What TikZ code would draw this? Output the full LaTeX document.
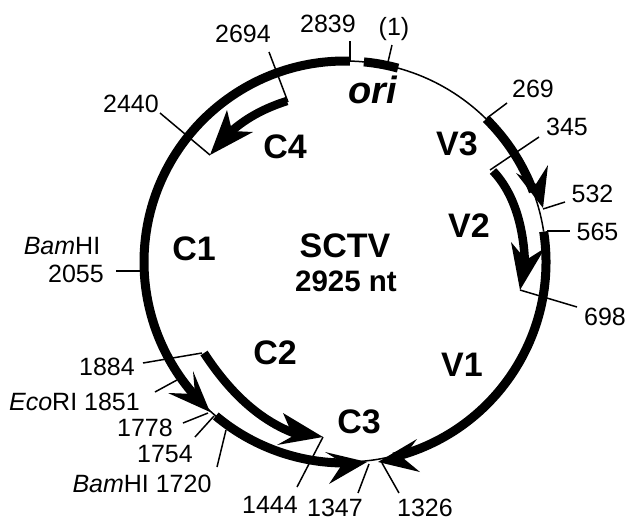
\documentclass[tikz,border=0pt]{standalone}
\usepackage{fontspec}
\setmainfont{Liberation Sans}
\newcommand\ringarc[4]{\draw[#1] ([shift={(-#2:#4)}]ctr) arc[start angle=-#2,end angle=-#3,radius=#4];}
\tikzset{
  num/.style={anchor=base,inner sep=0pt,font=\fontsize{25}{28}\selectfont},
  big/.style={anchor=base,inner sep=0pt,font=\fontsize{34}{36}\selectfont\bfseries},
  thick ring/.style={line width=9pt,line cap=butt},
  thin ring/.style={line width=1.5pt},
  gene/.style={line width=8.5pt,line cap=butt},
  tick/.style={line width=1.5pt},
  head/.style={fill=black,draw=none}
}
\begin{document}
\begin{tikzpicture}[x=1pt,y=1pt,yscale=-1]
\useasboundingbox (0,0) rectangle (629,520);
\coordinate (ctr) at (345,262);
% ring
\ringarc{thin ring}{88.6}{8.7}{201}
\ringarc{thin ring}{222}{231}{201}
\ringarc{thin ring}{268}{285}{200}
\ringarc{thick ring}{84.6}{74.7}{201}
\ringarc{thick ring}{88.6}{222.5}{201}
\ringarc{thick ring}{230}{270}{201}
\ringarc{thick ring}{8.7}{-76}{201}
\ringarc{thick ring}{45.4}{20.5}{201}
% ring arrowheads
\fill[head] (210,412) -- (193,371) -- (195,394) -- (168,393) -- cycle;
\fill[head] (367,462) -- (325,452) -- (343,463) -- (329,484) -- cycle;
\fill[head] (378,462) -- (417,439) -- (403,458) -- (420,472) -- cycle;
\fill[head] (543,208) -- (516,173) -- (536,184) -- (548,165) -- cycle;
% gene arrows
\draw[gene] (493,171) .. controls (513,192) and (524,225) .. (525,266);
\fill[head] (520,290) -- (511,242) -- (526,260) -- (545,248) -- cycle;
\draw[gene] (204,353) .. controls (225,385) and (255,420) .. (299,435);
\fill[head] (323,437) -- (283,413) -- (293,436) -- (277,445) -- cycle;
\draw[gene] (287,101) .. controls (265,108) and (245,118) .. (226,136);
\fill[head] (210,155) -- (227,110) -- (232,131) -- (253,132) -- cycle;
% tick end coordinates
\foreach \n/\a/\b/\c/\d in {
 t2694/269/52/288/102, t2839/350/41/350/62, t1/392/45/388/62, t269/487/118/507/103,
 t345/490/170/539/137, t532/543/209/565/202, t565/547/231/570/231, t698/520/290/577/307,
 t2440/210/155/160/113, t2055/116/271/143/271, t1884/202/353/143/363, t1851/177/380/155/392,
 t1778/208/413/183/423, t1754/214/416/195/437, t1720/226/430/217/467, t1444/323/437/297/487,
 t1347/369/464/358/493, t1326/382/463/399/493}{
  \coordinate (\n a) at (\a,\b);
  \coordinate (\n b) at (\c,\d);
  \draw[tick] (\n a) -- (\n b);
}
% labels
\node[num] (l2694) at (243,42) {2694};
\node[num] (l2839) at (328,32) {2839};
\node[num] (l1) at (394,35) {(1)};
\node[anchor=base,inner sep=0pt,font=\fontsize{38}{40}\selectfont\bfseries\itshape] (lori) at (373,103) {ori};
\node[num] (l269) at (533,97) {269};
\node[num] (l345) at (567,135) {345};
\node[num] (l532) at (592.5,202) {532};
\node[num] (l565) at (597.5,240) {565};
\node[num] (l698) at (605,325) {698};
\node[num] (l2440) at (131,112) {2440};
\node[num] (lbam) at (62,254) {\textit{Bam}HI};
\node[num] (l2055) at (76,282) {2055};
\node[num] (l1884) at (107,375) {1884};
\node[num,anchor=base east] (l1851) at (140,410) {\textit{Eco}RI 1851};
\node[num] (l1778) at (145,436) {1778};
\node[num] (l1754) at (165,462) {1754};
\node[num] (l1720) at (142,492) {\textit{Bam}HI 1720};
\node[num] (l1444) at (270,513) {1444};
\node[num] (l1347) at (335,516) {1347};
\node[num] (l1326) at (425,516) {1326};
\node[big] (lC1) at (194,260) {C1};
\node[big] (lC4) at (285,158) {C4};
\node[big] (lV3) at (457,155) {V3};
\node[big] (lV2) at (469,237) {V2};
\node[big] (lV1) at (462,376) {V1};
\node[big] (lC2) at (275,364) {C2};
\node[big] (lC3) at (359,433) {C3};
\node[big] (lS) at (345,257) {SCTV};
\node[anchor=base,inner sep=0pt,font=\fontsize{29.5}{32}\selectfont\bfseries] (lnt) at (346,291) {2925 nt};
\end{tikzpicture}
\end{document}
